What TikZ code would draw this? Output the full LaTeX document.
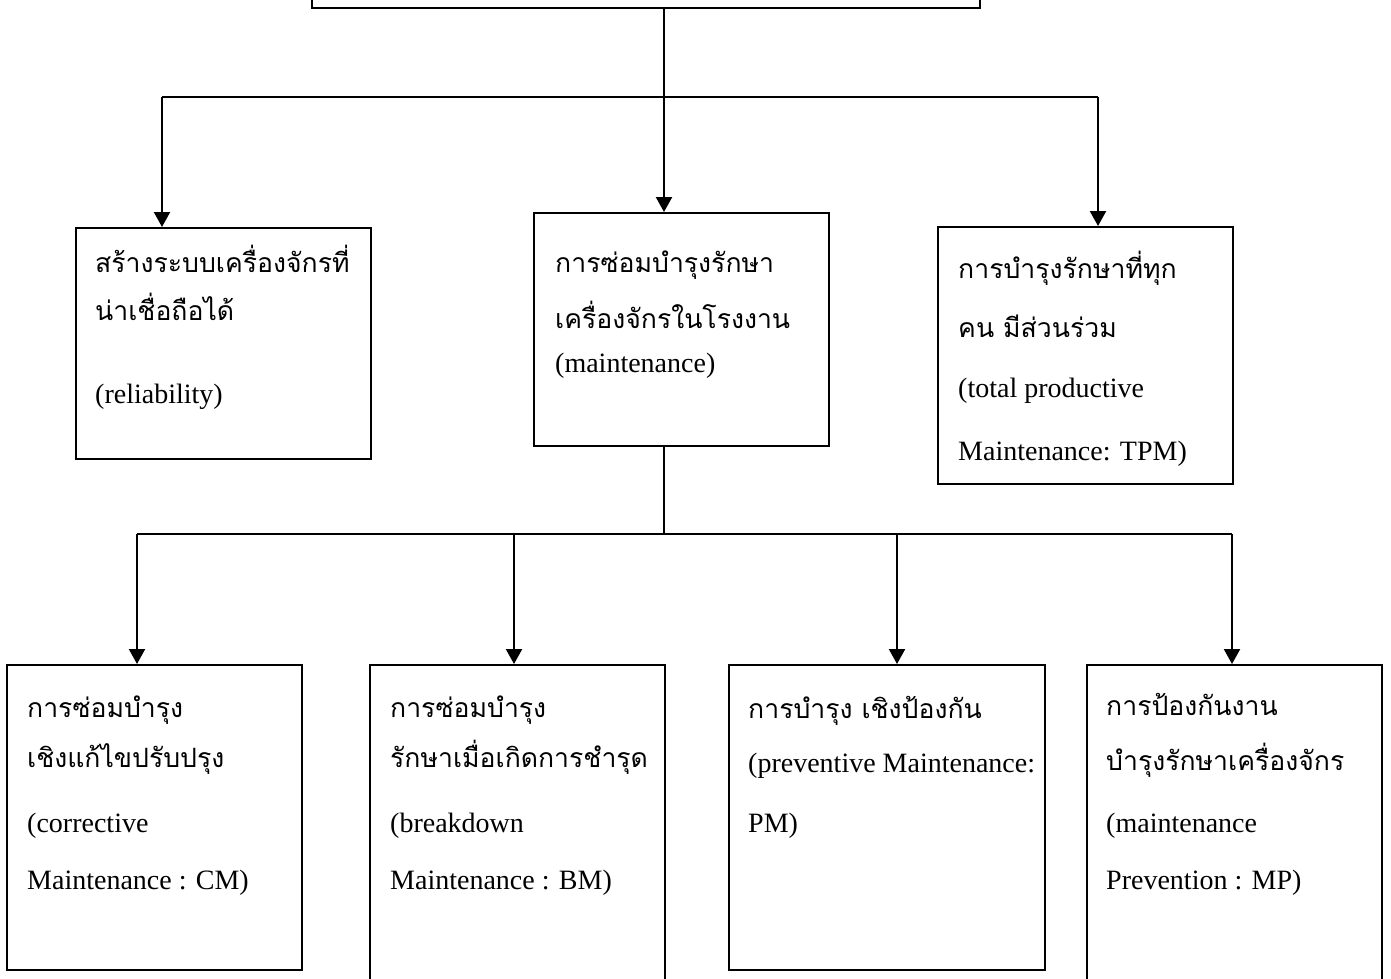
\documentclass[tikz,border=0pt]{standalone}
\usepackage{fontspec}
\setmainfont{Liberation Serif}
\newfontfamily\thaifont[Script=Thai,Scale=0.95]{Loma}
\usetikzlibrary{arrows.meta}
\tikzset{
    plain-box/.style = {draw, line width=2pt, rectangle, inner sep=0pt, anchor=north west, minimum width=295pt},
    box-text/.style = {anchor=base west, align=left, inner sep=0pt, font=\fontsize{28}{57}\selectfont},
    link/.style = {line width=2.2pt},
    link-arrow/.style = {link, -{Triangle[width=16pt,length=15pt]}},
}
\newcommand{\thaitext}[1]{{\thaifont #1}}

\begin{document}
\begin{tikzpicture}[x=1pt,y=-1pt]
\useasboundingbox (0,0) rectangle (1391,979);
% boxes
\node [plain-box, minimum width=668pt, minimum height=80pt] (goal) at (311,-73) {};
\node [plain-box, minimum height=231pt] (rel) at (75,227) {};
\node [plain-box, minimum height=233pt] (maint) at (533,212) {};
\node [plain-box, minimum height=257pt] (tpm) at (937,226) {};
\node [plain-box, minimum height=305pt] (cm) at (6,664) {};
\node [plain-box, minimum height=330pt] (bm) at (369,664) {};
\node [plain-box, minimum height=305pt, minimum width=316pt] (pm) at (728,664) {};
\node [plain-box, minimum height=330pt] (mp) at (1086,664) {};
% texts (placed by their last line)
\node [box-text] (rel-text) at ([shift={(20pt,-176pt)}]rel.north west)
    {\thaitext{สร้างระบบเครื่องจักรที่}\\[-9pt] \thaitext{น่าเชื่อถือได้}\\[26pt] (reliability)};
\node [box-text] (maint-text) at ([shift={(22pt,-160pt)}]maint.north west)
    {\thaitext{การซ่อมบำรุงรักษา}\\[-1pt] \thaitext{เครื่องจักรในโรงงาน}\\[-13pt] (maintenance)};
\node [box-text] (tpm-text) at ([shift={(21pt,-234pt)}]tpm.north west)
    {\thaitext{การบำรุงรักษาที่ทุก}\\[2pt] \thaitext{คน มีส่วนร่วม}\\[3pt] (total productive\\[6pt] Maintenance: TPM)};
\node [box-text] (cm-text) at ([shift={(21pt,-225pt)}]cm.north west)
    {\thaitext{การซ่อมบำรุง}\\[-7pt] \thaitext{เชิงแก้ไขปรับปรุง}\\[8pt] (corrective\\ Maintenance : CM)};
\node [box-text] (bm-text) at ([shift={(21pt,-225pt)}]bm.north west)
    {\thaitext{การซ่อมบำรุง}\\[-7pt] \thaitext{รักษาเมื่อเกิดการชำรุด}\\[8pt] (breakdown\\ Maintenance : BM)};
\node [box-text] (pm-text) at ([shift={(20pt,-168pt)}]pm.north west)
    {\thaitext{การบำรุง เชิงป้องกัน}\\[-3pt] (preventive Maintenance:\\[3pt] PM)};
\node [box-text] (mp-text) at ([shift={(20pt,-225pt)}]mp.north west)
    {\thaitext{การป้องกันงาน}\\[-2pt] \thaitext{บำรุงรักษาเครื่องจักร}\\[5pt] (maintenance\\ Prevention : MP)};
% upper branch
\coordinate (upper) at (664,97);
\coordinate (upper-l) at (162,97);
\coordinate (upper-r) at (1098,97);
\draw [link] (upper-l) -- (upper-r);
\draw [link-arrow] (goal.south -| upper) -- (upper |- maint.north);
\draw [link-arrow] (upper-l) -- (upper-l |- rel.north);
\draw [link-arrow] (upper-r) -- (upper-r |- tpm.north);
% lower branch
\coordinate (lower) at (664,534);
\draw [link] (maint.south -| lower) -- (lower);
\draw [link] (137,534) -- (1232,534);
\foreach \x/\n in {137/cm, 514/bm, 897/pm, 1232/mp}
    \draw [link-arrow] (\x,534) -- (\x,534 |- \n.north);
\end{tikzpicture}
\end{document}
